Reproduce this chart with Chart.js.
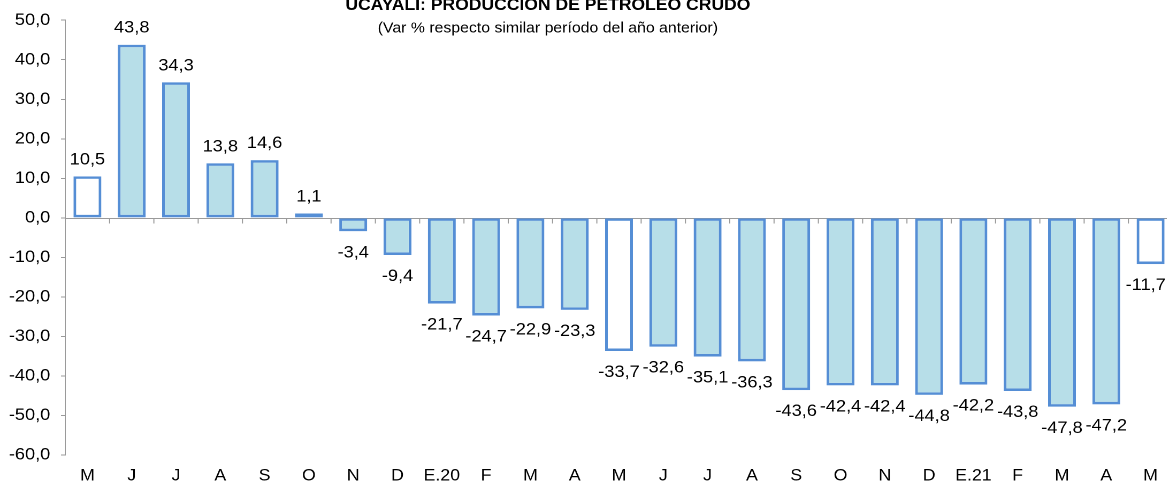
<!DOCTYPE html>
<html>
<head>
<meta charset="utf-8">
<script src="https://cdn.jsdelivr.net/npm/chart.js@4"></script>
<style>
html, body { margin:0; padding:0; overflow:hidden; background:#fff; width:1167px; height:485px; }
#wrap { position:absolute; left:0; top:0; width:1096px; height:485px; transform:scaleX(1.07); transform-origin:0 0; }
</style>
</head>
<body>
<div id="wrap"><canvas id="grafico" width="1096" height="485"></canvas></div>
<script>
// meses (may-2019 a may-2021)
const meses = ['M','J','J','A','S','O','N','D','E.20','F','M','A','M','J','J','A','S','O','N','D','E.21','F','M','A','M'];
// var % respecto similar periodo del año anterior
const variacion = [10.5, 43.8, 34.3, 13.8, 14.6, 1.1, -3.4, -9.4, -21.7, -24.7, -22.9, -23.3, -33.7, -32.6, -35.1, -36.3, -43.6, -42.4, -42.4, -44.8, -42.2, -43.8, -47.8, -47.2, -11.7];
const titulo = 'UCAYALI: PRODUCCIÓN DE PETRÓLEO CRUDO';
const subtitulo = '(Var % respecto similar período del año anterior)';

const fuente = '"Liberation Sans", Arial, sans-serif';
const fmt = v => v.toFixed(1).replace('.', ',');

// linea del cero y marcas entre barras
const lineaCero = {
    id: 'lineaCero',
    beforeDatasetsDraw(chart) {
        const ctx = chart.ctx, x = chart.scales.x, y = chart.scales.y;
        const y0 = Math.round(y.getPixelForValue(0)) + 0.5;
        ctx.save();
        ctx.strokeStyle = '#9a9a9a';
        ctx.lineWidth = 1;
        ctx.beginPath();
        ctx.moveTo(chart.chartArea.left, y0);
        ctx.lineTo(chart.chartArea.right, y0);
        for (let i = 1; i < meses.length; i++) {
            const xi = (x.getPixelForValue(i - 1) + x.getPixelForValue(i)) / 2;
            ctx.moveTo(xi, y0);
            ctx.lineTo(xi, y0 + 5);
        }
        ctx.stroke();
        ctx.restore();
    }
};

// etiquetas de valores
const etiquetas = {
    id: 'etiquetas',
    afterDatasetsDraw(chart) {
        const ctx = chart.ctx;
        ctx.save();
        ctx.font = '17px ' + fuente;
        ctx.fillStyle = '#000';
        ctx.textAlign = 'center';
        ctx.textBaseline = 'alphabetic';
        chart.getDatasetMeta(0).data.forEach((bar, i) => {
            const v = variacion[i];
            const txt = fmt(v);
            const half = ctx.measureText(txt).width / 2;
            const xx = Math.min(bar.x, 1089.5 - half);
            const yy = v >= 0 ? bar.y - 12 : bar.y + 26;
            ctx.fillText(txt, xx, yy);
        });
        ctx.restore();
    }
};

// titulo
const titulos = {
    id: 'titulos',
    afterDraw(chart) {
        const ctx = chart.ctx;
        ctx.save();
        ctx.fillStyle = '#000';
        ctx.textAlign = 'center';
        ctx.textBaseline = 'alphabetic';
        ctx.font = 'bold 16.4px ' + fuente;
        ctx.fillText(titulo, 512, 10);
        ctx.font = '14.8px ' + fuente;
        ctx.fillText(subtitulo, 512, 32.5);
        ctx.restore();
    }
};

new Chart(document.getElementById('grafico'), {
    type: 'bar',
    data: {
        labels: meses,
        datasets: [{
            label: 'Var %',
            data: variacion,
            backgroundColor: ctx => ctx.dataIndex % 12 === 0 ? '#ffffff' : '#b7dee8',
            borderColor: '#558ed5',
            borderWidth: 2.6,
            borderSkipped: false,
            categoryPercentage: 1,
            barPercentage: 0.63
        }]
    },
    options: {
        responsive: false,
        animation: false,
        devicePixelRatio: 2,
        layout: { padding: { top: 19, left: 0, right: 0, bottom: 0 } },
        plugins: {
            legend: { display: false },
            title: { display: false },
            tooltip: { enabled: false }
        },
        scales: {
            x: {
                grid: { display: false, drawTicks: false },
                border: { display: false },
                ticks: {
                    autoSkip: false, maxRotation: 0, padding: 11,
                    color: '#000', font: { family: fuente, size: 16.5 }
                },
                afterFit(s) { s.height = 30; }
            },
            y: {
                min: -60, max: 50,
                ticks: {
                    stepSize: 10, padding: 10,
                    color: '#000', font: { family: fuente, size: 17 },
                    callback: v => fmt(v)
                },
                grid: { drawOnChartArea: false, color: '#9a9a9a', tickLength: 4 },
                border: { color: '#9a9a9a' },
                afterFit(s) { s.width = 61; }
            }
        }
    },
    plugins: [lineaCero, etiquetas, titulos]
});
</script>
</body>
</html>
